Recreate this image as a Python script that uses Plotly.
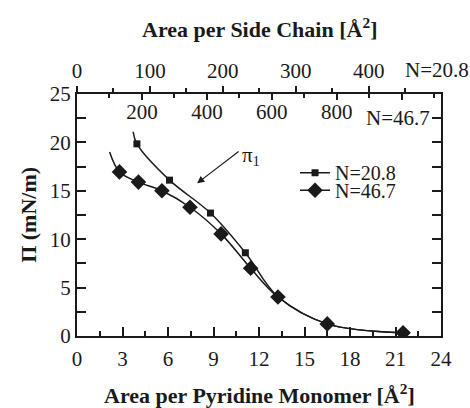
import plotly.graph_objects as go

# Surface pressure isotherms for two chain lengths
N_values = [20.8, 46.7]
series_names = ["N=20.8", "N=46.7"]

# N=20.8 (squares): area per pyridine monomer [Å²] vs Π [mN/m]
area_208 = [3.95, 6.1, 8.8, 11.1, 13.25, 16.5, 21.5]
pi_208 = [19.85, 16.1, 12.7, 8.6, 4.05, 1.25, 0.33]
# fitted curve for N=20.8 starts slightly above the first point
curve_start_208 = (3.7, 21.1)

# N=46.7 (diamonds)
area_467 = [2.8, 4.05, 5.6, 7.45, 9.5, 11.45, 13.25, 16.5, 21.5]
pi_467 = [16.95, 15.9, 15.0, 13.3, 10.55, 7.0, 4.03, 1.25, 0.33]
curve_start_467 = (2.15, 19.0)

x_range = [0, 24]
y_range = [0, 25]
x_ticks = [0, 3, 6, 9, 12, 15, 18, 21, 24]
y_ticks = [0, 5, 10, 15, 20, 25]
side_ticks_208 = [0, 100, 200, 300, 400]
side_ticks_467 = [0, 200, 400, 600, 800, 1000]
side_labels_467 = [200, 400, 600, 800]

FONT = "Liberation Serif"
INK = "#1a1a1a"
TICK_SIZE = 21
TITLE_SIZE = 22

fig = go.Figure()

# smooth fitted curves
for (sx, sy), xs, ys in [(curve_start_208, area_208, pi_208),
                         (curve_start_467, area_467, pi_467)]:
    fig.add_trace(go.Scatter(
        x=[sx] + xs, y=[sy] + ys, mode="lines",
        line=dict(color=INK, width=1.5, shape="spline", smoothing=1.0),
        showlegend=False, hoverinfo="skip"))

# measured points
fig.add_trace(go.Scatter(
    x=area_208, y=pi_208, mode="markers",
    marker=dict(symbol="square", size=7, color=INK), showlegend=False))
fig.add_trace(go.Scatter(
    x=area_467, y=pi_467, mode="markers",
    marker=dict(symbol="diamond", size=12, color=INK), showlegend=False))

# legend entries, one per legend box so the rows sit close together
fig.add_trace(go.Scatter(
    x=[None], y=[None], mode="lines+markers", name=series_names[0],
    line=dict(color=INK, width=1.5), legend="legend",
    marker=dict(symbol="square", size=7, color=INK)))
fig.add_trace(go.Scatter(
    x=[None], y=[None], mode="lines+markers", name=series_names[1],
    line=dict(color=INK, width=1.5), legend="legend2",
    marker=dict(symbol="diamond", size=12, color=INK)))

tickfont = dict(family=FONT, size=TICK_SIZE, color=INK)
titlefont = dict(family=FONT, size=TITLE_SIZE, color=INK)
legend_common = dict(xanchor="left", yanchor="middle", bgcolor="rgba(0,0,0,0)",
                     font=dict(family=FONT, size=20, color=INK),
                     borderwidth=0)
side_range_467 = [0, x_range[1] * N_values[1]]

fig.update_layout(
    width=470, height=408,
    margin=dict(l=77, r=29, t=94, b=72),
    paper_bgcolor="white", plot_bgcolor="white",
    font=dict(family=FONT, size=TICK_SIZE, color=INK),
    xaxis=dict(
        range=x_range, tickvals=x_ticks, ticks="inside", ticklen=9,
        tickwidth=1.5, tickcolor=INK, ticklabelstandoff=3, automargin=False,
        minor=dict(dtick=1.5, tick0=0, ticks="inside", ticklen=5,
                   tickwidth=1.5, tickcolor=INK),
        showline=True, linewidth=2, linecolor=INK, showgrid=False,
        zeroline=False, tickfont=tickfont),
    # side-chain scale for N=20.8 along the top edge
    xaxis2=dict(
        overlaying="x", side="top", anchor="y", automargin=False,
        range=[0, x_range[1] * N_values[0]], tickvals=side_ticks_208,
        ticks="outside", ticklen=6, tickwidth=1.5, tickcolor=INK,
        minor=dict(dtick=50, tick0=0, ticks="outside", ticklen=4,
                   tickwidth=1.5, tickcolor=INK),
        showline=True, linewidth=2, linecolor=INK, showgrid=False,
        zeroline=False, tickfont=tickfont),
    # side-chain scale for N=46.7: ticks hanging from the top edge
    xaxis3=dict(
        overlaying="x", side="top", anchor="y", automargin=False,
        range=side_range_467, tickvals=side_ticks_467, showticklabels=False,
        ticks="inside", ticklen=6, tickwidth=1.5, tickcolor=INK,
        minor=dict(dtick=100, tick0=0, ticks="inside", ticklen=4,
                   tickwidth=1.5, tickcolor=INK),
        showline=False, showgrid=False, zeroline=False),
    # ... and its numbers, just below the top edge
    xaxis4=dict(
        overlaying="x", side="top", anchor="free", position=0.878,
        automargin=False, range=side_range_467, tickvals=side_labels_467,
        ticks="", showline=False, showgrid=False, zeroline=False,
        tickfont=tickfont),
    yaxis=dict(
        range=y_range, tickvals=y_ticks, ticks="inside", ticklen=9,
        tickwidth=1.5, tickcolor=INK, automargin=False,
        minor=dict(dtick=2.5, tick0=0, ticks="inside", ticklen=5,
                   tickwidth=1.5, tickcolor=INK),
        showline=True, linewidth=2, linecolor=INK, mirror="allticks",
        showgrid=False, zeroline=False, tickfont=tickfont),
    legend=dict(x=0.599, y=0.675, **legend_common),
    legend2=dict(x=0.599, y=0.602, **legend_common),
    showlegend=True,
)

# invisible traces so the extra top axes are drawn
for ax_name in ["x2", "x3", "x4"]:
    fig.add_trace(go.Scatter(x=[None], y=[None], xaxis=ax_name, showlegend=False))

# axis titles
fig.add_annotation(text="<b>Area per Pyridine Monomer [Å<sup>2</sup>]</b>",
                   xref="paper", yref="paper", x=0.5, y=-0.241,
                   xanchor="center", yanchor="middle", showarrow=False,
                   font=titlefont)
fig.add_annotation(text="<b>Area per Side Chain [Å<sup>2</sup>]</b>",
                   xref="paper", yref="paper", x=0.5, y=1.272,
                   xanchor="center", yanchor="middle", showarrow=False,
                   font=titlefont)
fig.add_annotation(text="<b>Π (mN/m)</b>", textangle=-90,
                   xref="paper", yref="paper", x=-0.135, y=0.5,
                   xanchor="center", yanchor="middle", showarrow=False,
                   font=titlefont)

# chain-length labels next to each top scale
fig.add_annotation(text="N=20.8", xref="paper", yref="paper", x=0.989, y=1.10,
                   xanchor="center", yanchor="middle", showarrow=False,
                   font=dict(family=FONT, size=TICK_SIZE, color=INK))
fig.add_annotation(text="N=46.7", xref="paper", yref="paper", x=0.882, y=0.90,
                   xanchor="center", yanchor="middle", showarrow=False,
                   font=dict(family=FONT, size=TICK_SIZE, color=INK))

# π1 marker with arrow
fig.add_annotation(text="", x=7.92, y=15.78, ax=43, ay=-33, showarrow=True,
                   arrowhead=2, arrowsize=1.2, arrowwidth=1.2, arrowcolor=INK)
fig.add_annotation(text="π<sub>1</sub>", x=11.5, y=18.6, showarrow=False,
                   font=dict(family=FONT, size=TICK_SIZE, color=INK))

fig.write_html("out.html")
